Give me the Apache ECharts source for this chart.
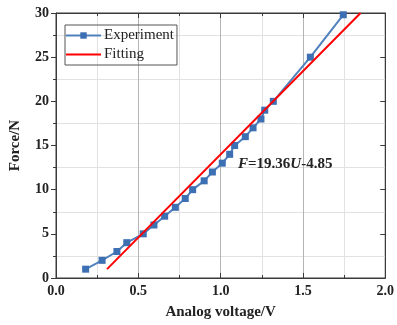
<!DOCTYPE html>
<html>
<head>
<meta charset="utf-8">
<script src="https://cdn.jsdelivr.net/npm/echarts@6/dist/echarts.min.js"></script>
<style>
  html, body {margin: 0; padding: 0; background: #fff;}
  #main {width: 397px; height: 325px;}
</style>
</head>
<body>
<div id="main"></div>
<script>
// Experiment points
const voltage = [0.18, 0.28, 0.37, 0.43, 0.53, 0.595, 0.66, 0.725, 0.785, 0.83, 0.9, 0.95, 1.01, 1.055, 1.085, 1.15, 1.197, 1.245, 1.268, 1.32, 1.545, 1.745];
const force = [1, 2, 3, 4, 5, 6, 7, 8, 9, 10, 11, 12, 13, 14, 15, 16, 17, 18, 19, 20, 25, 29.8];
// Fitting line ends
const fitVoltage = [0.31, 1.85];
const fitForce = [1.0, 30];

const font = 'Liberation Serif';
const axisColor = '#3a3a3a';

const chart = echarts.init(document.getElementById('main'));

const baseX = {
  type: 'value', min: 0, max: 2, interval: 0.5,
  axisLine: {show: true, onZero: false, lineStyle: {color: axisColor, width: 1}},
  minorTick: {show: true, splitNumber: 2, length: 3, lineStyle: {color: axisColor}},
  axisTick: {show: true, inside: true, length: 5, lineStyle: {color: axisColor}}
};
const baseY = {
  type: 'value', min: 0, max: 30, interval: 5,
  axisLine: {show: true, onZero: false, lineStyle: {color: axisColor, width: 1}},
  axisTick: {show: true, length: 5, lineStyle: {color: axisColor}}
};

chart.setOption({
  animation: false,
  grid: {left: 53, right: 10, top: 13, bottom: 46, show: true, borderColor: axisColor, borderWidth: 1},
  legend: {
    orient: 'vertical', left: 65, top: 25,
    itemWidth: 35, itemHeight: 8, itemGap: 4,
    padding: [3, 3, 3, 0],
    borderColor: '#555', borderWidth: 1,
    textStyle: {fontFamily: font, fontSize: 15, color: '#222', padding: [0, 0, 0, -2]},
    data: ['Experiment', {name: 'Fitting', itemStyle: {opacity: 0}}]
  },
  xAxis: [
    Object.assign({}, baseX, {
      position: 'bottom',
      name: 'Analog voltage/V', nameLocation: 'middle', nameGap: 27,
      nameTextStyle: {fontFamily: font, fontWeight: 'bold', fontSize: 15, color: '#222'},
      axisLabel: {fontFamily: font, fontWeight: 'bold', fontSize: 14, color: '#222', margin: 6,
        formatter: v => v.toFixed(1)},
      splitLine: {show: true, lineStyle: {color: '#b4b4b4', width: 1}},
      minorSplitLine: {show: true, lineStyle: {color: '#e2e2e2', width: 1}}
    }),
    Object.assign({}, baseX, {
      position: 'top', axisLabel: {show: false}, splitLine: {show: false}
    })
  ],
  yAxis: [
    Object.assign({}, baseY, {
      position: 'left',
      name: 'Force/N', nameLocation: 'middle', nameGap: 33,
      nameTextStyle: {fontFamily: font, fontWeight: 'bold', fontSize: 15, color: '#222'},
      minorTick: {show: true, splitNumber: 2, length: 3, lineStyle: {color: axisColor}},
      axisLabel: {fontFamily: font, fontWeight: 'bold', fontSize: 14, color: '#222', margin: 7},
      splitLine: {show: false},
      minorSplitLine: {show: true, lineStyle: {color: '#e2e2e2', width: 1}}
    }),
    Object.assign({}, baseY, {
      position: 'right', axisLabel: {show: false}, splitLine: {show: false},
      axisTick: {show: true, inside: true, length: 5, lineStyle: {color: axisColor}}
    })
  ],
  series: [
    {
      name: 'Experiment', type: 'line',
      data: voltage.map((u, i) => [u, force[i]]),
      symbol: 'rect', symbolSize: 7,
      lineStyle: {color: '#4f81bd', width: 2},
      itemStyle: {color: '#3d6fb3'},
      z: 3
    },
    {
      name: 'Fitting', type: 'line',
      data: fitVoltage.map((u, i) => [u, fitForce[i]]),
      symbol: 'none',
      lineStyle: {color: '#ff0000', width: 2},
      itemStyle: {color: '#ff0000'},
      z: 4
    },
    {
      // keeps the top and right frame axes alive
      name: 'frame', type: 'line', xAxisIndex: 1, yAxisIndex: 1,
      data: [], symbol: 'none', silent: true
    }
  ],
  graphic: [{
    type: 'text', left: 238, top: 157, z: 10,
    style: {
      text: '{i|F}{b|=19.36}{i|U}{b|-4.85}',
      rich: {
        i: {fontFamily: font, fontSize: 15, fontWeight: 'bold', fontStyle: 'italic', fill: '#222'},
        b: {fontFamily: font, fontSize: 15, fontWeight: 'bold', fill: '#222'}
      }
    }
  }]
});
</script>
</body>
</html>
